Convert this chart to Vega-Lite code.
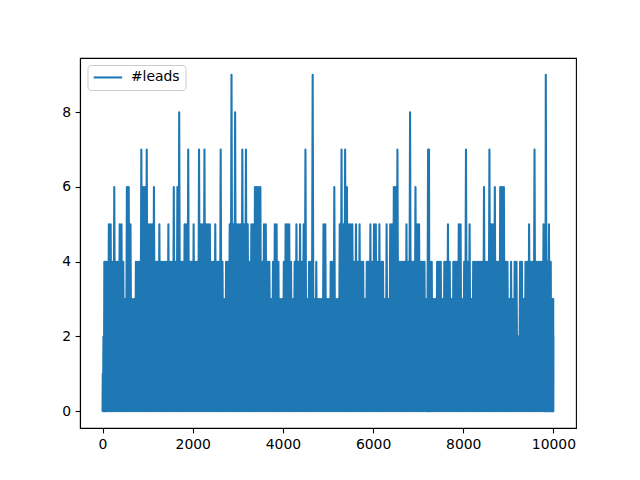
{"$schema":"https://vega.github.io/schema/vega-lite/v6.json","width":496,"height":370,"autosize":{"type":"none"},"padding":{"left":80,"top":58,"right":64,"bottom":52},"background":"white","config":{"view":{"stroke":"#000","strokeWidth":1.1},"font":"DejaVu Sans"},"data":{"values":[{"x":0,"y":0},{"x":5,"y":1},{"x":10,"y":0},{"x":20,"y":2},{"x":30,"y":0},{"x":40,"y":4},{"x":50,"y":0},{"x":60,"y":4},{"x":80,"y":0},{"x":100,"y":4},{"x":120,"y":0},{"x":140,"y":5},{"x":160,"y":0},{"x":180,"y":5},{"x":200,"y":0},{"x":220,"y":4},{"x":240,"y":0},{"x":260,"y":6},{"x":280,"y":0},{"x":300,"y":4},{"x":320,"y":0},{"x":340,"y":4},{"x":360,"y":0},{"x":380,"y":5},{"x":400,"y":0},{"x":420,"y":5},{"x":440,"y":0},{"x":460,"y":4},{"x":480,"y":0},{"x":500,"y":3},{"x":520,"y":0},{"x":540,"y":6},{"x":560,"y":0},{"x":580,"y":6},{"x":600,"y":0},{"x":620,"y":5},{"x":640,"y":0},{"x":660,"y":3},{"x":680,"y":0},{"x":700,"y":3},{"x":720,"y":0},{"x":740,"y":4},{"x":760,"y":0},{"x":780,"y":4},{"x":800,"y":0},{"x":820,"y":4},{"x":840,"y":0},{"x":860,"y":7},{"x":880,"y":0},{"x":900,"y":6},{"x":920,"y":0},{"x":940,"y":6},{"x":960,"y":0},{"x":980,"y":7},{"x":1000,"y":0},{"x":1020,"y":5},{"x":1040,"y":0},{"x":1060,"y":5},{"x":1080,"y":0},{"x":1100,"y":5},{"x":1120,"y":0},{"x":1140,"y":6},{"x":1160,"y":0},{"x":1180,"y":4},{"x":1200,"y":0},{"x":1220,"y":4},{"x":1240,"y":0},{"x":1260,"y":5},{"x":1280,"y":0},{"x":1300,"y":4},{"x":1320,"y":0},{"x":1340,"y":4},{"x":1360,"y":0},{"x":1380,"y":4},{"x":1400,"y":0},{"x":1420,"y":4},{"x":1440,"y":0},{"x":1460,"y":5},{"x":1480,"y":0},{"x":1500,"y":4},{"x":1520,"y":0},{"x":1540,"y":4},{"x":1560,"y":0},{"x":1580,"y":6},{"x":1600,"y":0},{"x":1620,"y":4},{"x":1640,"y":0},{"x":1660,"y":6},{"x":1680,"y":0},{"x":1700,"y":8},{"x":1720,"y":0},{"x":1740,"y":4},{"x":1760,"y":0},{"x":1780,"y":4},{"x":1800,"y":0},{"x":1820,"y":5},{"x":1840,"y":0},{"x":1860,"y":5},{"x":1880,"y":0},{"x":1900,"y":7},{"x":1920,"y":0},{"x":1940,"y":4},{"x":1960,"y":0},{"x":1980,"y":4},{"x":2000,"y":0},{"x":2020,"y":5},{"x":2040,"y":0},{"x":2060,"y":4},{"x":2080,"y":0},{"x":2100,"y":4},{"x":2120,"y":0},{"x":2140,"y":7},{"x":2160,"y":0},{"x":2180,"y":5},{"x":2200,"y":0},{"x":2220,"y":5},{"x":2240,"y":0},{"x":2260,"y":7},{"x":2280,"y":0},{"x":2300,"y":5},{"x":2320,"y":0},{"x":2340,"y":5},{"x":2360,"y":0},{"x":2380,"y":5},{"x":2400,"y":0},{"x":2420,"y":4},{"x":2440,"y":0},{"x":2460,"y":4},{"x":2480,"y":0},{"x":2500,"y":5},{"x":2520,"y":0},{"x":2540,"y":4},{"x":2560,"y":0},{"x":2580,"y":4},{"x":2600,"y":0},{"x":2620,"y":7},{"x":2640,"y":0},{"x":2660,"y":4},{"x":2680,"y":0},{"x":2700,"y":3},{"x":2720,"y":0},{"x":2740,"y":4},{"x":2760,"y":0},{"x":2780,"y":4},{"x":2800,"y":0},{"x":2820,"y":5},{"x":2840,"y":0},{"x":2860,"y":9},{"x":2880,"y":0},{"x":2900,"y":5},{"x":2920,"y":0},{"x":2940,"y":8},{"x":2960,"y":0},{"x":2980,"y":5},{"x":3000,"y":0},{"x":3020,"y":5},{"x":3040,"y":0},{"x":3060,"y":5},{"x":3080,"y":0},{"x":3100,"y":7},{"x":3120,"y":0},{"x":3140,"y":5},{"x":3160,"y":0},{"x":3180,"y":7},{"x":3200,"y":0},{"x":3220,"y":5},{"x":3240,"y":0},{"x":3260,"y":4},{"x":3280,"y":0},{"x":3300,"y":5},{"x":3320,"y":0},{"x":3340,"y":5},{"x":3360,"y":0},{"x":3380,"y":6},{"x":3400,"y":0},{"x":3420,"y":6},{"x":3440,"y":0},{"x":3460,"y":6},{"x":3480,"y":0},{"x":3500,"y":6},{"x":3520,"y":0},{"x":3540,"y":4},{"x":3560,"y":0},{"x":3580,"y":5},{"x":3600,"y":0},{"x":3620,"y":5},{"x":3640,"y":0},{"x":3660,"y":4},{"x":3680,"y":0},{"x":3700,"y":4},{"x":3720,"y":0},{"x":3740,"y":3},{"x":3760,"y":0},{"x":3780,"y":4},{"x":3800,"y":0},{"x":3820,"y":5},{"x":3840,"y":0},{"x":3860,"y":5},{"x":3880,"y":0},{"x":3900,"y":4},{"x":3920,"y":0},{"x":3940,"y":3},{"x":3960,"y":0},{"x":3980,"y":3},{"x":4000,"y":0},{"x":4020,"y":4},{"x":4040,"y":0},{"x":4060,"y":5},{"x":4080,"y":0},{"x":4100,"y":5},{"x":4120,"y":0},{"x":4140,"y":5},{"x":4160,"y":0},{"x":4180,"y":4},{"x":4200,"y":0},{"x":4220,"y":3},{"x":4240,"y":0},{"x":4260,"y":4},{"x":4280,"y":0},{"x":4300,"y":5},{"x":4320,"y":0},{"x":4340,"y":4},{"x":4360,"y":0},{"x":4380,"y":5},{"x":4400,"y":0},{"x":4420,"y":4},{"x":4440,"y":0},{"x":4460,"y":5},{"x":4480,"y":0},{"x":4500,"y":7},{"x":4520,"y":0},{"x":4540,"y":3},{"x":4560,"y":0},{"x":4580,"y":4},{"x":4600,"y":0},{"x":4620,"y":4},{"x":4640,"y":0},{"x":4660,"y":9},{"x":4680,"y":0},{"x":4700,"y":3},{"x":4720,"y":0},{"x":4740,"y":4},{"x":4760,"y":0},{"x":4780,"y":3},{"x":4800,"y":0},{"x":4820,"y":3},{"x":4840,"y":0},{"x":4860,"y":3},{"x":4880,"y":0},{"x":4900,"y":5},{"x":4920,"y":0},{"x":4940,"y":5},{"x":4960,"y":0},{"x":4980,"y":3},{"x":5000,"y":0},{"x":5020,"y":3},{"x":5040,"y":0},{"x":5060,"y":4},{"x":5080,"y":0},{"x":5100,"y":4},{"x":5120,"y":0},{"x":5140,"y":6},{"x":5160,"y":0},{"x":5180,"y":3},{"x":5200,"y":0},{"x":5220,"y":3},{"x":5240,"y":0},{"x":5260,"y":5},{"x":5280,"y":0},{"x":5300,"y":7},{"x":5320,"y":0},{"x":5340,"y":5},{"x":5360,"y":0},{"x":5380,"y":7},{"x":5400,"y":0},{"x":5420,"y":6},{"x":5440,"y":0},{"x":5460,"y":5},{"x":5480,"y":0},{"x":5500,"y":5},{"x":5520,"y":0},{"x":5540,"y":5},{"x":5560,"y":0},{"x":5580,"y":4},{"x":5600,"y":0},{"x":5620,"y":5},{"x":5640,"y":0},{"x":5660,"y":4},{"x":5680,"y":0},{"x":5700,"y":5},{"x":5720,"y":0},{"x":5740,"y":4},{"x":5760,"y":0},{"x":5780,"y":4},{"x":5800,"y":0},{"x":5820,"y":3},{"x":5840,"y":0},{"x":5860,"y":4},{"x":5880,"y":0},{"x":5900,"y":4},{"x":5920,"y":0},{"x":5940,"y":5},{"x":5960,"y":0},{"x":5980,"y":4},{"x":6000,"y":0},{"x":6020,"y":5},{"x":6040,"y":0},{"x":6060,"y":5},{"x":6080,"y":0},{"x":6100,"y":4},{"x":6120,"y":0},{"x":6140,"y":5},{"x":6160,"y":0},{"x":6180,"y":4},{"x":6200,"y":0},{"x":6220,"y":4},{"x":6240,"y":0},{"x":6260,"y":3},{"x":6280,"y":0},{"x":6300,"y":5},{"x":6320,"y":0},{"x":6340,"y":3},{"x":6360,"y":0},{"x":6380,"y":5},{"x":6400,"y":0},{"x":6420,"y":5},{"x":6440,"y":0},{"x":6460,"y":6},{"x":6480,"y":0},{"x":6500,"y":6},{"x":6520,"y":0},{"x":6540,"y":7},{"x":6560,"y":0},{"x":6580,"y":4},{"x":6600,"y":0},{"x":6620,"y":4},{"x":6640,"y":0},{"x":6660,"y":4},{"x":6680,"y":0},{"x":6700,"y":4},{"x":6720,"y":0},{"x":6740,"y":5},{"x":6760,"y":0},{"x":6780,"y":4},{"x":6800,"y":0},{"x":6820,"y":8},{"x":6840,"y":0},{"x":6860,"y":4},{"x":6880,"y":0},{"x":6900,"y":4},{"x":6920,"y":0},{"x":6940,"y":6},{"x":6960,"y":0},{"x":6980,"y":5},{"x":7000,"y":0},{"x":7020,"y":5},{"x":7040,"y":0},{"x":7060,"y":4},{"x":7080,"y":0},{"x":7100,"y":4},{"x":7120,"y":0},{"x":7140,"y":4},{"x":7160,"y":0},{"x":7180,"y":3},{"x":7200,"y":0},{"x":7220,"y":7},{"x":7230,"y":0},{"x":7240,"y":7},{"x":7250,"y":0},{"x":7265,"y":4},{"x":7280,"y":0},{"x":7300,"y":4},{"x":7320,"y":0},{"x":7340,"y":3},{"x":7360,"y":0},{"x":7380,"y":3},{"x":7400,"y":0},{"x":7420,"y":4},{"x":7440,"y":0},{"x":7460,"y":4},{"x":7480,"y":0},{"x":7500,"y":4},{"x":7520,"y":0},{"x":7540,"y":3},{"x":7560,"y":0},{"x":7580,"y":4},{"x":7600,"y":0},{"x":7620,"y":4},{"x":7640,"y":0},{"x":7660,"y":5},{"x":7680,"y":0},{"x":7700,"y":4},{"x":7720,"y":0},{"x":7740,"y":3},{"x":7760,"y":0},{"x":7780,"y":4},{"x":7800,"y":0},{"x":7820,"y":4},{"x":7840,"y":0},{"x":7860,"y":4},{"x":7880,"y":0},{"x":7900,"y":5},{"x":7920,"y":0},{"x":7940,"y":5},{"x":7960,"y":0},{"x":7980,"y":3},{"x":8000,"y":0},{"x":8020,"y":4},{"x":8040,"y":0},{"x":8060,"y":7},{"x":8080,"y":0},{"x":8100,"y":4},{"x":8120,"y":0},{"x":8140,"y":5},{"x":8160,"y":0},{"x":8180,"y":3},{"x":8200,"y":0},{"x":8220,"y":4},{"x":8240,"y":0},{"x":8260,"y":4},{"x":8280,"y":0},{"x":8300,"y":4},{"x":8320,"y":0},{"x":8340,"y":4},{"x":8360,"y":0},{"x":8380,"y":4},{"x":8400,"y":0},{"x":8420,"y":4},{"x":8440,"y":0},{"x":8460,"y":6},{"x":8480,"y":0},{"x":8500,"y":4},{"x":8520,"y":0},{"x":8540,"y":4},{"x":8560,"y":0},{"x":8580,"y":7},{"x":8600,"y":0},{"x":8620,"y":5},{"x":8640,"y":0},{"x":8660,"y":5},{"x":8680,"y":0},{"x":8700,"y":6},{"x":8720,"y":0},{"x":8740,"y":4},{"x":8760,"y":0},{"x":8780,"y":4},{"x":8800,"y":0},{"x":8820,"y":6},{"x":8840,"y":0},{"x":8860,"y":6},{"x":8880,"y":0},{"x":8900,"y":6},{"x":8920,"y":0},{"x":8940,"y":4},{"x":8960,"y":0},{"x":8980,"y":4},{"x":9000,"y":0},{"x":9020,"y":3},{"x":9040,"y":0},{"x":9060,"y":4},{"x":9080,"y":0},{"x":9100,"y":3},{"x":9120,"y":0},{"x":9140,"y":4},{"x":9160,"y":0},{"x":9180,"y":4},{"x":9200,"y":0},{"x":9220,"y":2},{"x":9240,"y":0},{"x":9260,"y":4},{"x":9280,"y":0},{"x":9300,"y":4},{"x":9320,"y":0},{"x":9340,"y":3},{"x":9360,"y":0},{"x":9380,"y":4},{"x":9400,"y":0},{"x":9420,"y":4},{"x":9440,"y":0},{"x":9460,"y":5},{"x":9480,"y":0},{"x":9500,"y":4},{"x":9520,"y":0},{"x":9540,"y":4},{"x":9560,"y":0},{"x":9580,"y":7},{"x":9600,"y":0},{"x":9620,"y":4},{"x":9640,"y":0},{"x":9660,"y":4},{"x":9680,"y":0},{"x":9700,"y":4},{"x":9720,"y":0},{"x":9740,"y":4},{"x":9760,"y":0},{"x":9780,"y":5},{"x":9800,"y":0},{"x":9815,"y":4},{"x":9822,"y":0},{"x":9830,"y":9},{"x":9850,"y":0},{"x":9865,"y":4},{"x":9880,"y":0},{"x":9900,"y":5},{"x":9920,"y":0},{"x":9940,"y":4},{"x":9950,"y":0},{"x":9965,"y":3},{"x":9975,"y":0},{"x":9985,"y":3},{"x":9992,"y":0},{"x":9995,"y":3},{"x":9997,"y":0},{"x":10000,"y":2}]},"mark":{"type":"line","strokeWidth":2.08,"strokeJoin":"round"},"encoding":{"x":{"field":"x","type":"quantitative","scale":{"domain":[-500,10500],"nice":false,"zero":false},"axis":{"title":null,"grid":false,"values":[0,2000,4000,6000,8000,10000],"format":"d","labelFontSize":13.9,"labelFont":"DejaVu Sans","labelColor":"#000","tickColor":"#000","domainColor":"#000","tickSize":4.9,"tickWidth":1.1,"domainWidth":1.1,"labelPadding":4.5,"labelFlush":false}},"y":{"field":"y","type":"quantitative","scale":{"domain":[-0.45,9.45],"nice":false,"zero":false},"axis":{"title":null,"grid":false,"values":[0,2,4,6,8],"format":"d","labelFontSize":13.9,"labelFont":"DejaVu Sans","labelColor":"#000","tickColor":"#000","domainColor":"#000","tickSize":4.9,"tickWidth":1.1,"domainWidth":1.1,"labelPadding":4.5}},"color":{"datum":"#leads","type":"nominal","scale":{"range":["#1f77b4"]},"legend":{"title":null,"orient":"none","legendX":7.5,"legendY":7,"symbolType":"M-1.3,0H4.6","symbolSize":93,"symbolStrokeWidth":2.08,"symbolFillColor":"transparent","labelFontSize":13.9,"labelFont":"DejaVu Sans","labelColor":"#000","labelOffset":24,"strokeColor":"#ccc","fillColor":"#fff","cornerRadius":3,"padding":5.5,"rowPadding":0}}}}
